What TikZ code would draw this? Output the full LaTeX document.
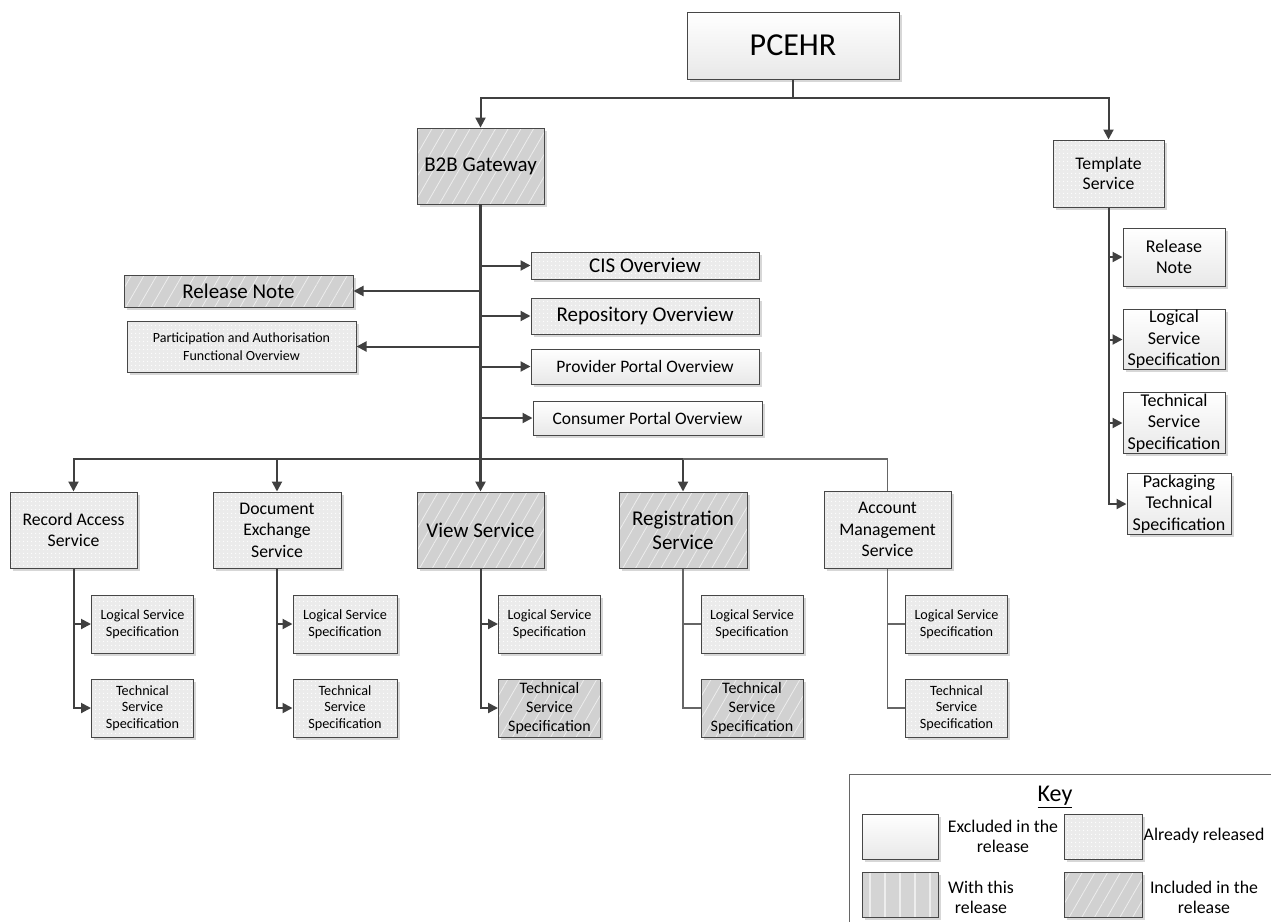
\documentclass[tikz,border=0pt]{standalone}
\usepackage{fontspec}
\setmainfont{Carlito}
\usetikzlibrary{arrows.meta,patterns.meta,shadows}
\definecolor{ln}{HTML}{404040}
\begin{document}
\begin{tikzpicture}[x=1pt,y=-1pt,
  box/.style={draw=black!72, line width=1pt, align=center, inner sep=1pt,
    drop shadow={shadow xshift=2.5pt,shadow yshift=-2.5pt,fill=black!35,opacity=.45}},
  excl/.style={box, top color=white, bottom color=black!9},
  alrd/.style={box, preaction={fill=black!8}, pattern={Dots[distance=4pt,radius=0.7pt]}, pattern color=white},
  incl/.style={box, preaction={fill=black!18}, pattern={Lines[angle=60,distance=11pt,line width=0.8pt]}, pattern color=black!7},
  withr/.style={box, preaction={fill=black!17}, pattern={Lines[angle=90,distance=15pt,line width=1.2pt]}, pattern color=black!7},
  sz/.style 2 args={font=\fontsize{#1}{#2}\selectfont},
  wd/.style 2 args={minimum width=#1, minimum height=#2},
  con/.style={draw=ln, line width=2pt, -{Triangle[length=10pt,width=10pt]}},
  plainl/.style={draw=ln, line width=2pt},
  thinl/.style={draw=black!60, line width=1.2pt},
  txt/.style={align=center, inner sep=0pt}
]
\useasboundingbox (0,0) rectangle (1271,921);

% top level
\node[excl, wd={212pt}{67pt}, sz={32}{36}] (pcehr) at (793,45.5) {PCEHR};
\node[incl, wd={127pt}{76pt}, sz={21}{24}] (b2b) at (480.5,166) {B2B Gateway};
\node[alrd, wd={111pt}{67pt}, sz={17.7}{20.7}] (tmpl) at (1108.5,173.5) {Template\\Service};

% template children
\node[excl, wd={102pt}{58pt}, sz={18}{21.5}] (trn) at (1174,257) {Release\\Note};
\node[excl, wd={102pt}{59pt}, sz={18}{21.5}] (tlss) at (1174,339.5) {Logical\\Service\\Specification};
\node[excl, wd={102pt}{60pt}, sz={18}{21.5}] (ttss) at (1174,423) {Technical\\Service\\Specification};
\node[excl, wd={104pt}{58pt}, sz={18}{21.5}] (tpts) at (1179,504) {Packaging\\Technical\\Specification};

% B2B right branches
\node[alrd, wd={228pt}{27pt}, sz={21}{24}] (cis) at (645,265.5) {CIS Overview};
\node[alrd, wd={228pt}{36pt}, sz={21}{24}] (repo) at (645,316) {Repository Overview};
\node[excl, wd={228pt}{35pt}, sz={17.5}{20}] (prov) at (645,366.5) {Provider Portal Overview};
\node[excl, wd={229pt}{34pt}, sz={17.5}{20}] (cons) at (647.5,418) {Consumer Portal Overview};

% B2B left branches
\node[incl, wd={229pt}{32pt}, sz={21}{24}] (relnote) at (238.5,291) {Release Note};
\node[alrd, wd={229pt}{51pt}, sz={14}{17.7}] (part) at (241.5,346.5) {Participation and Authorisation\\Functional Overview};

% services
\node[alrd, wd={127pt}{76pt}, sz={17.7}{21}] (ras) at (73.5,530) {Record Access\\Service};
\node[alrd, wd={128pt}{76pt}, sz={17.7}{21.5}] (des) at (277,530) {Document\\Exchange\\Service};
\node[incl, wd={127pt}{76pt}, sz={21}{24}] (vs) at (480.5,530) {View Service};
\node[incl, wd={128pt}{76pt}, sz={21}{24}] (rs) at (683,530) {Registration\\Service};
\node[alrd, wd={127pt}{77pt}, sz={17.7}{21.7}] (ams) at (887.5,529.5) {Account\\Management\\Service};

% service children
\node[alrd, wd={102pt}{58pt}, sz={14.2}{16.7}] (ras1) at (142.5,624) {Logical Service\\Specification};
\node[alrd, wd={102pt}{58pt}, sz={14.2}{16.7}] (ras2) at (142.5,708) {Technical\\Service\\Specification};
\node[alrd, wd={104pt}{58pt}, sz={14.2}{16.7}] (des1) at (345,624) {Logical Service\\Specification};
\node[alrd, wd={104pt}{58pt}, sz={14.2}{16.7}] (des2) at (345,708) {Technical\\Service\\Specification};
\node[alrd, wd={102pt}{58pt}, sz={14.2}{16.7}] (vs1) at (549.5,624) {Logical Service\\Specification};
\node[incl, wd={102pt}{58pt}, sz={16}{19}] (vs2) at (549.5,708) {Technical\\Service\\Specification};
\node[alrd, wd={102pt}{58pt}, sz={14.2}{16.7}] (rs1) at (752,624) {Logical Service\\Specification};
\node[incl, wd={102pt}{58pt}, sz={16}{19}] (rs2) at (752,708) {Technical\\Service\\Specification};
\node[alrd, wd={102pt}{58pt}, sz={14.2}{16.7}] (ams1) at (956.5,624) {Logical Service\\Specification};
\node[alrd, wd={102pt}{58pt}, sz={14.2}{16.7}] (ams2) at (956.5,708) {Technical\\Service\\Specification};

% connectors: PCEHR
\coordinate (pj) at (793,98);
\draw[plainl] (pcehr.south) -- (pj);
\draw[con] (pj) -| (b2b.north);
\draw[con] (pj) -| (tmpl.north);

% template
\draw[con] (tmpl.south) |- (trn.west);
\draw[con] (tmpl.south) |- (tlss.west);
\draw[con] (tmpl.south) |- (ttss.west);
\draw[con] (tmpl.south) |- (tpts.west);

% B2B trunk
\draw[con, line width=2.5pt] (b2b.south) -- (vs.north);
\draw[con] (b2b.south |- cis.west) -- (cis.west);
\draw[con] (b2b.south |- repo.west) -- (repo.west);
\draw[con] (b2b.south |- prov.west) -- (prov.west);
\draw[con] (b2b.south |- cons.west) -- (cons.west);
\draw[con] (b2b.south |- relnote.east) -- (relnote.east);
\draw[con] (b2b.south |- part.east) -- (part.east);

% bus
\coordinate (bus) at (480.5,459);
\draw[con] (bus) -| (ras.north);
\draw[con] (bus) -| (des.north);
\draw[con] (bus) -| (rs.north);
\draw[thinl] (rs.north |- bus) -| (ams.north);

% children
\draw[con] (ras.south) |- (ras1.west);
\draw[con] (ras.south) |- (ras2.west);
\draw[con] (des.south) |- (des1.west);
\draw[con] (des.south) |- (des2.west);
\draw[con] (vs.south) |- (vs1.west);
\draw[con] (vs.south) |- (vs2.west);
\draw[thinl] (rs.south) |- (rs1.west);
\draw[thinl] (rs.south) |- (rs2.west);
\draw[thinl] (ams.south) |- (ams1.west);
\draw[thinl] (ams.south) |- (ams2.west);

% key
\node[draw=black!60, line width=1pt, minimum width=426pt, minimum height=151pt, inner sep=0pt] (keyframe) at (1062,849.5) {};
\node[txt, sz={24}{28}] (keytitle) at (1055,797) {\underline{Key}};
\node[excl, wd={76pt}{45pt}] (k1) at (900,836.5) {};
\node[alrd, wd={78pt}{45pt}] (k2) at (1103,836.5) {};
\node[withr, wd={76pt}{45pt}] (k3) at (900,894.5) {};
\node[incl, wd={78pt}{45pt}] (k4) at (1103,894.5) {};
\node[txt, sz={17.8}{20}] (k1t) at (1003,836) {Excluded in the\\release};
\node[txt, sz={17.8}{20}] (k2t) at (1204,836) {Already released};
\node[txt, sz={17.8}{20}] (k3t) at (981,897) {With this\\release};
\node[txt, sz={17.8}{20}] (k4t) at (1204,897) {Included in the\\release};
\end{tikzpicture}
\end{document}
